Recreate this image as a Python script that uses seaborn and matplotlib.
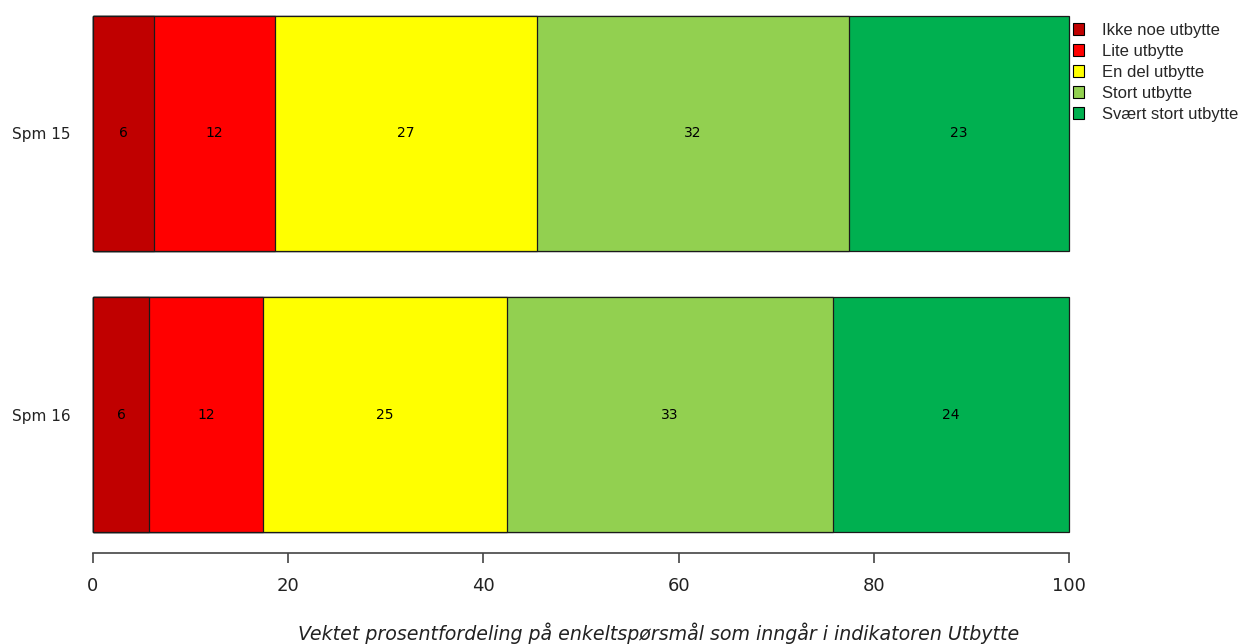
import matplotlib
matplotlib.use('Agg')
import matplotlib.pyplot as plt
from matplotlib.patches import Patch
import numpy as np
import pandas as pd
import seaborn as sns

# Data (weighted percentages)
questions = ['Spm 15', 'Spm 16']
categories = ['Ikke noe utbytte', 'Lite utbytte', 'En del utbytte',
              'Stort utbytte', 'Svært stort utbytte']
spm15 = [6.25, 12.4, 26.85, 31.96, 22.54]
spm16 = [5.74, 11.68, 25.0, 33.4, 24.18]
colors = ['#C00000', '#FF0000', '#FFFF00', '#92D050', '#00B050']
xticks = [0, 20, 40, 60, 80, 100]
xlabel = 'Vektet prosentfordeling på enkeltspørsmål som inngår i indikatoren Utbytte'

sns.set_theme(style='white')
plt.rcParams['font.family'] = ['DejaVu Sans']

df = pd.DataFrame([spm15, spm16], index=questions, columns=categories)
cum = df.cumsum(axis=1)

fig = plt.figure(figsize=(12.48, 6.44), dpi=100)
ax = fig.add_axes([93 / 1248, 1 - 532 / 644, (1069 - 93) / 1248, (532 - 16) / 644])

bar_w = 0.835
# Draw cumulative bars from the right, so each segment sits on top of the next
for i in range(len(categories) - 1, -1, -1):
    cat = categories[i]
    plot_df = pd.DataFrame({'q': questions, 'v': cum[cat].values})
    sns.barplot(data=plot_df, x='v', y='q', orient='h', color=colors[i],
                saturation=1, width=bar_w, edgecolor='#1a1a1a', linewidth=0.9,
                ax=ax)
for p in ax.patches:
    p.set_clip_on(False)

# Segment labels
for r, q in enumerate(questions):
    left = 0
    for cat in categories:
        v = df.loc[q, cat]
        ax.text(left + v / 2, r, f'{v:.0f}', ha='center', va='center',
                fontsize=10, color='black')
        left += v

ax.set_xlim(0, 100)
ax.set_ylim(len(questions) - 1 + bar_w / 2, -bar_w / 2)
ax.set_xticks(xticks)
ax.set_xlabel('')
ax.set_ylabel('')
# x title sits a bit right of the axis centre in the original
fig.text(659 / 1248, 1 - 633 / 644, xlabel, ha='center', va='center',
         fontsize=13.7, style='italic', color='#222222')

for s in ['top', 'right', 'left']:
    ax.spines[s].set_visible(False)
ax.spines['bottom'].set_position(('outward', 15))
ax.spines['bottom'].set_color('#444444')
ax.spines['bottom'].set_linewidth(1.2)
ax.tick_params(axis='x', length=7, width=1.2, color='#444444', labelsize=13,
               labelcolor='#222222', pad=10.5, bottom=True, direction='out')
ax.tick_params(axis='y', length=0, labelsize=11, labelcolor='#222222', pad=16)

handles = [Patch(facecolor=c, edgecolor='black', linewidth=0.8) for c in colors]
fig.legend(handles, categories, loc='upper left',
           bbox_to_anchor=(1066 / 1248, 1 - 16 / 644), frameon=False,
           handlelength=0.7, handleheight=0.7, handletextpad=1.05,
           labelspacing=0.36, borderaxespad=0,
           prop={'family': 'Liberation Sans', 'size': 12})

fig.savefig('out.png', dpi=100)
